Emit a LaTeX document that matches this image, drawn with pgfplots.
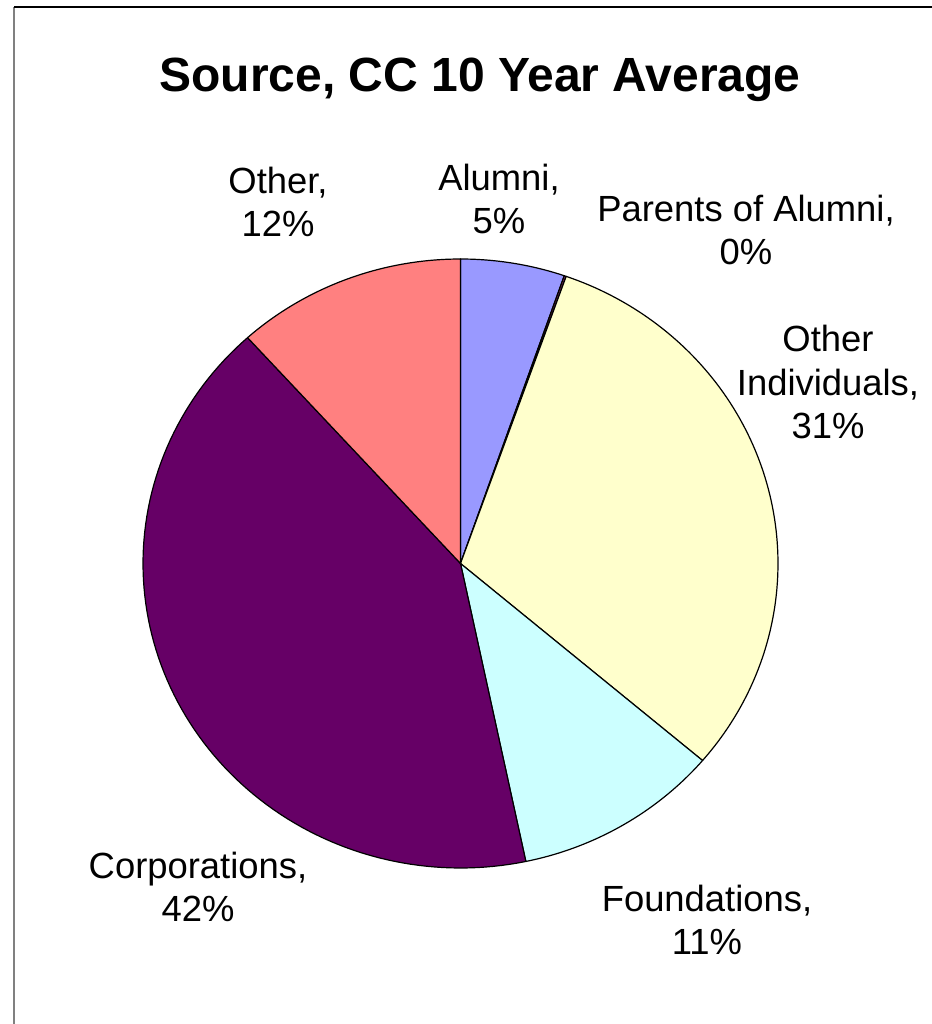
\documentclass[border=0pt]{standalone}
\usepackage{fontspec}
\setmainfont{Liberation Sans}
\usepackage{pgfplots}
\usepackage{pgfplotstable}
\pgfplotsset{compat=1.18}

\definecolor{cAlumni}{HTML}{9999FF}
\definecolor{cParents}{HTML}{993366}
\definecolor{cIndiv}{HTML}{FFFFCC}
\definecolor{cFound}{HTML}{CCFFFF}
\definecolor{cCorp}{HTML}{660066}
\definecolor{cOther}{HTML}{FF8080}

% shares in percent, clockwise from 12 o'clock
\pgfplotstableread{
source share
Alumni 5.3
Parents 0.1
Individuals 30.8
Foundations 10.5
Corporations 41.6
Other 11.7
}\sources

\newcommand{\lbl}{\fontsize{18.2}{21.8}\selectfont}

% one wedge from cumulative share #1 to #2
\newcommand{\slice}[3]{%
  \addplot[draw=black, line width=0.6pt, line join=round, fill=#3,
    domain=-0.1:1.1, samples=121]
    ({460.5+317.5*rr(x)*cos(90-3.6*(#1+(#2-#1)*cl(x)))},
     {460.5+304.5*rr(x)*sin(90-3.6*(#1+(#2-#1)*cl(x)))});}

\begin{document}
\begin{tikzpicture}
\useasboundingbox (0,0) rectangle (466pt,512pt);

\pgfplotstablegetelem{0}{share}\of\sources \pgfmathsetmacro\cA{\pgfplotsretval}
\pgfplotstablegetelem{1}{share}\of\sources \pgfmathsetmacro\cB{\cA+\pgfplotsretval}
\pgfplotstablegetelem{2}{share}\of\sources \pgfmathsetmacro\cC{\cB+\pgfplotsretval}
\pgfplotstablegetelem{3}{share}\of\sources \pgfmathsetmacro\cD{\cC+\pgfplotsretval}
\pgfplotstablegetelem{4}{share}\of\sources \pgfmathsetmacro\cE{\cD+\pgfplotsretval}
\pgfplotstablegetelem{5}{share}\of\sources \pgfmathsetmacro\cF{\cE+\pgfplotsretval}

\begin{axis}[at={(0,0)}, anchor=south west, x=0.5pt, y=0.5pt,
  xmin=0, xmax=932, ymin=0, ymax=1024, hide axis, clip=false,
  declare function={cl(\t)=min(1,max(0,\t));
                    rr(\t)=min(1,max(0,10*(\t+0.1)),max(0,10*(1.1-\t)));}]

  % frame
  \draw[gray, line width=1pt] (axis cs:14,1017) -- (axis cs:14,0);
  \draw[black, line width=1pt] (axis cs:14,1017) -- (axis cs:932,1017);

  \slice{0}{\cA}{cAlumni}
  \slice{\cA}{\cB}{cParents}
  \slice{\cB}{\cC}{cIndiv}
  \slice{\cC}{\cD}{cFound}
  \slice{\cD}{\cE}{cCorp}
  \slice{\cE}{\cF}{cOther}

  \node[font=\fontsize{24}{28}\selectfont\bfseries] at (axis cs:480,944) {Source, CC 10 Year Average};
  \node[font=\lbl, align=center] at (axis cs:278,822) {Other,\\12\%};
  \node[font=\lbl, align=center] at (axis cs:499,825) {Alumni,\\5\%};
  \node[font=\lbl, align=center] at (axis cs:746,794) {Parents of Alumni,\\0\%};
  \node[font=\lbl, align=center] at (axis cs:828,642) {Other\\Individuals,\\31\%};
  \node[font=\lbl, align=center] at (axis cs:198,137) {Corporations,\\42\%};
  \node[font=\lbl, align=center] at (axis cs:707,104) {Foundations,\\11\%};
\end{axis}
\end{tikzpicture}
\end{document}
